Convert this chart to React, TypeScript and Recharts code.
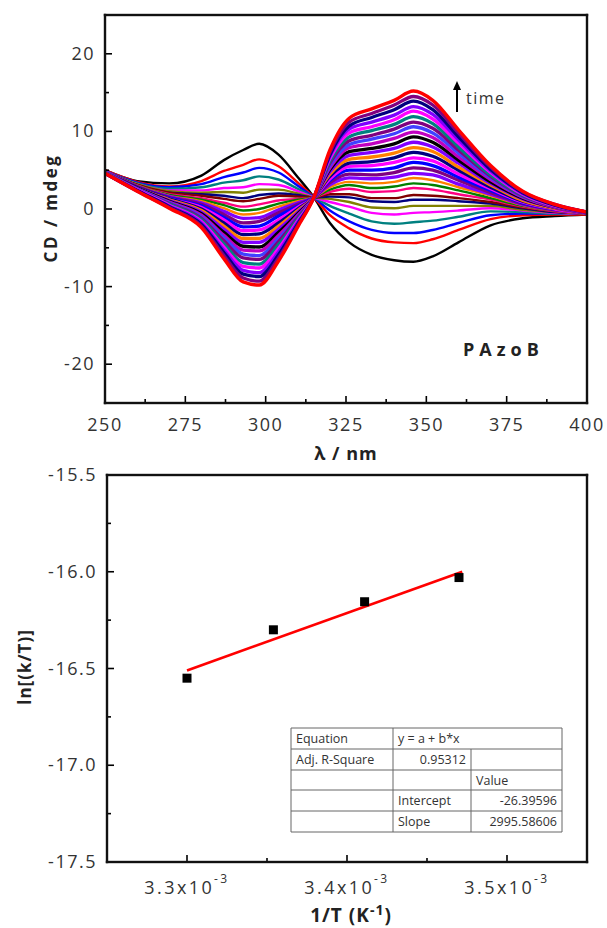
import React from "react";
import {
  LineChart,
  ComposedChart,
  Line,
  Scatter,
  XAxis,
  YAxis,
} from "recharts";

const FONT = "'Open Sans', 'DejaVu Sans', sans-serif";

// ---- top panel: CD spectra vs wavelength ----
const wavelength = [250, 260, 270, 280, 287, 293, 298, 304, 310, 315, 320, 326, 333, 340, 346, 352, 360, 370, 380, 390, 400];

// one row per recorded spectrum, first (black) to last (red)
const cdSpectra: number[][] = [
  [5.0, 3.6, 3.3, 4.3, 6.3, 7.6, 8.4, 7.0, 4.1, 1.5, -1.8, -4.3, -5.9, -6.6, -6.8, -6.1, -4.3, -2.1, -1.2, -0.9, -0.7],
  [5.0, 3.5, 2.9, 3.6, 4.9, 5.7, 6.4, 5.5, 3.4, 1.5, -0.8, -2.5, -3.8, -4.3, -4.4, -3.9, -2.7, -1.3, -0.8, -0.7, -0.7],
  [4.9, 3.4, 2.8, 3.2, 4.1, 4.7, 5.3, 4.7, 3.0, 1.5, -0.2, -1.6, -2.7, -3.1, -3.1, -2.7, -1.8, -0.8, -0.6, -0.6, -0.6],
  [4.9, 3.3, 2.6, 2.8, 3.4, 3.7, 4.2, 3.8, 2.6, 1.5, 0.4, -0.6, -1.6, -1.9, -1.7, -1.5, -1.0, -0.3, -0.4, -0.6, -0.6],
  [4.9, 3.2, 2.4, 2.4, 2.7, 2.8, 3.2, 3.1, 2.3, 1.5, 0.9, 0.3, -0.5, -0.7, -0.5, -0.4, -0.2, 0.1, -0.2, -0.5, -0.6],
  [4.9, 3.2, 2.3, 2.1, 2.2, 2.1, 2.5, 2.5, 2.0, 1.5, 1.3, 0.9, 0.2, 0.1, 0.4, 0.4, 0.4, 0.4, -0.1, -0.4, -0.6],
  [4.9, 3.1, 2.1, 1.9, 1.7, 1.4, 1.8, 2.0, 1.8, 1.5, 1.6, 1.5, 1.0, 0.9, 1.2, 1.2, 1.0, 0.7, 0.1, -0.4, -0.6],
  [4.8, 3.1, 2.1, 1.7, 1.3, 1.0, 1.3, 1.7, 1.6, 1.5, 1.9, 1.9, 1.4, 1.4, 1.8, 1.7, 1.4, 0.9, 0.2, -0.3, -0.6],
  [4.8, 3.0, 1.9, 1.4, 0.8, 0.3, 0.6, 1.1, 1.3, 1.5, 2.2, 2.6, 2.2, 2.3, 2.7, 2.5, 1.9, 1.2, 0.3, -0.3, -0.6],
  [4.8, 3.0, 1.8, 1.2, 0.5, -0.2, 0.0, 0.7, 1.2, 1.5, 2.5, 3.1, 2.7, 2.9, 3.3, 3.1, 2.4, 1.4, 0.4, -0.2, -0.6],
  [4.8, 3.0, 1.7, 1.0, 0.1, -0.7, -0.5, 0.3, 1.0, 1.5, 2.8, 3.5, 3.3, 3.5, 4.0, 3.7, 2.8, 1.7, 0.5, -0.2, -0.6],
  [4.8, 2.9, 1.6, 0.8, -0.3, -1.2, -1.1, -0.1, 0.8, 1.5, 3.1, 4.0, 3.9, 4.1, 4.6, 4.4, 3.2, 1.9, 0.6, -0.1, -0.5],
  [4.8, 2.9, 1.5, 0.6, -0.7, -1.8, -1.6, -0.5, 0.6, 1.5, 3.4, 4.5, 4.4, 4.7, 5.3, 5.0, 3.7, 2.1, 0.7, -0.1, -0.5],
  [4.8, 2.8, 1.4, 0.4, -1.1, -2.3, -2.2, -0.9, 0.4, 1.5, 3.7, 5.0, 5.0, 5.3, 6.0, 5.6, 4.1, 2.4, 0.8, 0.0, -0.5],
  [4.8, 2.8, 1.3, 0.2, -1.4, -2.8, -2.7, -1.4, 0.2, 1.5, 3.9, 5.5, 5.6, 6.0, 6.6, 6.2, 4.5, 2.6, 0.9, 0.0, -0.5],
  [4.7, 2.8, 1.3, 0.0, -1.8, -3.3, -3.2, -1.8, 0.0, 1.5, 4.2, 5.9, 6.1, 6.6, 7.3, 6.8, 5.0, 2.8, 1.0, 0.1, -0.5],
  [4.7, 2.7, 1.2, -0.2, -2.2, -3.8, -3.8, -2.2, -0.2, 1.5, 4.5, 6.4, 6.7, 7.2, 7.9, 7.4, 5.4, 3.1, 1.1, 0.1, -0.5],
  [4.7, 2.7, 1.1, -0.4, -2.6, -4.3, -4.3, -2.6, -0.4, 1.5, 4.8, 6.9, 7.3, 7.8, 8.6, 8.0, 5.9, 3.3, 1.3, 0.2, -0.5],
  [4.7, 2.7, 1.0, -0.6, -3.0, -4.8, -4.9, -3.0, -0.6, 1.5, 5.1, 7.4, 7.8, 8.4, 9.3, 8.6, 6.3, 3.5, 1.4, 0.2, -0.5],
  [4.7, 2.6, 0.9, -0.8, -3.4, -5.3, -5.4, -3.4, -0.8, 1.5, 5.3, 7.9, 8.4, 9.1, 9.9, 9.2, 6.7, 3.8, 1.5, 0.2, -0.5],
  [4.7, 2.6, 0.8, -1.0, -3.7, -5.8, -6.0, -3.8, -1.0, 1.5, 5.6, 8.3, 9.0, 9.7, 10.6, 9.8, 7.2, 4.0, 1.6, 0.3, -0.5],
  [4.7, 2.5, 0.7, -1.2, -4.1, -6.3, -6.5, -4.2, -1.1, 1.5, 5.9, 8.8, 9.5, 10.3, 11.2, 10.4, 7.6, 4.2, 1.7, 0.3, -0.5],
  [4.7, 2.5, 0.6, -1.4, -4.5, -6.9, -7.1, -4.6, -1.3, 1.5, 6.2, 9.3, 10.1, 10.9, 11.9, 11.0, 8.0, 4.4, 1.8, 0.4, -0.4],
  [4.6, 2.5, 0.5, -1.6, -4.9, -7.4, -7.6, -5.1, -1.5, 1.5, 6.5, 9.8, 10.6, 11.5, 12.6, 11.6, 8.5, 4.7, 1.9, 0.4, -0.4],
  [4.6, 2.4, 0.4, -1.8, -5.3, -7.9, -8.2, -5.5, -1.7, 1.5, 6.8, 10.3, 11.2, 12.1, 13.2, 12.2, 8.9, 4.9, 2.0, 0.5, -0.4],
  [4.6, 2.4, 0.3, -2.0, -5.6, -8.4, -8.7, -5.9, -1.9, 1.5, 7.0, 10.7, 11.8, 12.8, 13.9, 12.8, 9.3, 5.1, 2.1, 0.5, -0.4],
  [4.6, 2.3, 0.2, -2.2, -6.0, -8.9, -9.3, -6.3, -2.1, 1.5, 7.3, 11.2, 12.3, 13.4, 14.5, 13.4, 9.8, 5.4, 2.2, 0.6, -0.4],
  [4.6, 2.3, 0.1, -2.4, -6.4, -9.4, -9.8, -6.7, -2.3, 1.5, 7.6, 11.7, 12.9, 14.0, 15.2, 14.0, 10.2, 5.6, 2.3, 0.6, -0.4],
];

const curveColors = [
  "#000000", "#FF0000", "#0000FF", "#008080", "#FF00FF", "#808000", "#000080",
  "#800000", "#FF0080", "#008000", "#FF8000",
  "#8000FF", "#800080", "#0000FF", "#FF00FF", "#000080", "#FF8000", "#8000FF",
  "#000000", "#C000C0", "#4040FF", "#800080", "#008080", "#FF00FF", "#8000FF",
  "#000080", "#800080", "#FF0000",
];

const cdXTicks = [250, 262.5, 275, 287.5, 300, 312.5, 325, 337.5, 350, 362.5, 375, 387.5, 400];
const cdXLabels = ["250", "275", "300", "325", "350", "375", "400"];
const cdYTicks = [-20, -15, -10, -5, 0, 5, 10, 15, 20];
const cdYLabels = ["-20", "-10", "0", "10", "20"];

// ---- bottom panel: Eyring plot ----
const invT = [3.3e-3, 3.354e-3, 3.411e-3, 3.47e-3];
const lnKT = [-16.55, -16.3, -16.155, -16.03];
const fitX = [3.3e-3, 3.472e-3];
const fitY = [-16.51, -16.0];

const eyXTicks = [3.3e-3, 3.35e-3, 3.4e-3, 3.45e-3, 3.5e-3];
const eyXLabels = ["3.3", "3.4", "3.5"];
const eyYTicks = [-17.5, -17.25, -17.0, -16.75, -16.5, -16.25, -16.0, -15.75, -15.5];
const eyYLabels = ["-17.5", "-17.0", "-16.5", "-16.0", "-15.5"];

const tableRows = [
  ["Equation", "y = a + b*x", ""],
  ["Adj. R-Square", "0.95312", ""],
  ["", "", "Value"],
  ["", "Intercept", "-26.39596"],
  ["", "Slope", "2995.58606"],
];

// layout of the two panels
const W = 607;
const TOP = { y0: 0, h: 465, mTop: 15, mRight: 20, yW: 105, xH: 62 };
const BOT = { y0: 440, h: 488, mTop: 35, mRight: 20, yW: 107, xH: 66 };

const labelStyle = { fontFamily: FONT, fontSize: 18, fill: "#333", letterSpacing: 1.5 };

function xTick(labels: string[], dy: number, sci = false) {
  return (p: any) => {
    const major = p.index % 2 === 0;
    const lab = major ? labels[p.index / 2] : null;
    return (
      <g>
        <line x1={p.x} x2={p.x} y1={p.y} y2={p.y - (major ? 7 : 4)} stroke="#000" strokeWidth={1.6} />
        {lab && (
          <text x={p.x} y={p.y + dy} textAnchor="middle" {...labelStyle} letterSpacing={sci ? 2.4 : 1.5}>
            {sci ? (
              <>
                {lab}x10
                <tspan dy={-11} fontSize={12}>-3</tspan>
              </>
            ) : (
              lab
            )}
          </text>
        )}
      </g>
    );
  };
}

function yTick(labels: string[]) {
  return (p: any) => {
    const major = p.index % 2 === 0;
    const lab = major ? labels[p.index / 2] : null;
    return (
      <g>
        <line x1={p.x} x2={p.x + (major ? 7 : 4)} y1={p.y} y2={p.y} stroke="#000" strokeWidth={1.6} />
        {lab && (
          <text x={p.x - 10} y={p.y + 6} textAnchor="end" {...labelStyle}>
            {lab}
          </text>
        )}
      </g>
    );
  };
}

const Square = (p: any) => <rect x={p.cx - 4.5} y={p.cy - 4.5} width={9} height={9} fill="#000" />;

// plot-area border drawn as four filled bars
function FrameBars({ p }: { p: typeof TOP }) {
  const x0 = p.yW;
  const y0 = p.y0 + p.mTop;
  const x1 = W - p.mRight;
  const y1 = p.y0 + p.h - p.xH;
  const t = 2.4;
  return (
    <g fill="#111">
      <rect x={x0 - t / 2} y={y0 - t / 2} width={x1 - x0 + t} height={t} />
      <rect x={x0 - t / 2} y={y1 - t / 2} width={x1 - x0 + t} height={t} />
      <rect x={x0 - t / 2} y={y0 - t / 2} width={t} height={y1 - y0 + t} />
      <rect x={x1 - t / 2} y={y0 - t / 2} width={t} height={y1 - y0 + t} />
    </g>
  );
}

export default function App() {
  const cdRows = wavelength.map((w, i) => {
    const row: Record<string, number> = { w };
    cdSpectra.forEach((s, k) => {
      row[`c${k}`] = s[i];
    });
    return row;
  });
  const points = invT.map((x, i) => ({ x, y: lnKT[i] }));
  const fit = fitX.map((x, i) => ({ x, y: fitY[i] }));
  const last = cdSpectra.length - 1;

  const colX = [291, 393, 471, 562];
  const rowY = [728, 749, 770, 790, 811, 832];

  return (
    <div style={{ position: "relative", width: W, height: 928, background: "#fff" }}>
      <style>{`body{margin:0;background:#fff}`}</style>

      <div style={{ position: "absolute", left: 0, top: TOP.y0 }}>
        <LineChart width={W} height={TOP.h} data={cdRows} margin={{ top: TOP.mTop, right: TOP.mRight, bottom: 0, left: 0 }}>
          <XAxis
            dataKey="w"
            type="number"
            domain={[250, 400]}
            ticks={cdXTicks}
            interval={0}
            height={TOP.xH}
            axisLine={false}
            tickLine={false}
            tickSize={0}
            tickMargin={0}
            tick={xTick(cdXLabels, 28)}
            allowDataOverflow
          />
          <YAxis
            type="number"
            domain={[-25, 25]}
            ticks={cdYTicks}
            interval={0}
            width={TOP.yW}
            axisLine={false}
            tickLine={false}
            tickSize={0}
            tickMargin={0}
            tick={yTick(cdYLabels)}
            allowDataOverflow
          />
          {cdSpectra.map((_, k) => (
            <Line
              key={k}
              dataKey={`c${k}`}
              type="monotone"
              stroke={curveColors[k]}
              strokeWidth={k === last ? 3.4 : k > 10 ? 3.3 : 2.4}
              dot={false}
              isAnimationActive={false}
            />
          ))}
        </LineChart>
      </div>

      <div style={{ position: "absolute", left: 0, top: BOT.y0 }}>
        <ComposedChart width={W} height={BOT.h} margin={{ top: BOT.mTop, right: BOT.mRight, bottom: 0, left: 0 }}>
          <XAxis
            dataKey="x"
            type="number"
            domain={[3.25e-3, 3.55e-3]}
            ticks={eyXTicks}
            interval={0}
            height={BOT.xH}
            axisLine={false}
            tickLine={false}
            tickSize={0}
            tickMargin={0}
            tick={xTick(eyXLabels, 32, true)}
            allowDataOverflow
          />
          <YAxis
            type="number"
            domain={[-17.5, -15.5]}
            ticks={eyYTicks}
            interval={0}
            width={BOT.yW}
            axisLine={false}
            tickLine={false}
            tickSize={0}
            tickMargin={0}
            tick={yTick(eyYLabels)}
            allowDataOverflow
          />
          <Line data={fit} dataKey="y" type="linear" stroke="#FF0000" strokeWidth={2.6} dot={false} isAnimationActive={false} />
          <Scatter data={points} dataKey="y" fill="#000" shape={Square} isAnimationActive={false} />
        </ComposedChart>
      </div>

      <svg width={W} height={928} style={{ position: "absolute", left: 0, top: 0, pointerEvents: "none" }}>
        <FrameBars p={TOP} />
        <FrameBars p={BOT} />

        {/* top panel titles and notes */}
        <text transform="translate(57,208) rotate(-90)" textAnchor="middle" fontFamily={FONT} fontWeight="bold" fontSize={17} letterSpacing={2.5} fill="#222">
          CD / mdeg
        </text>
        <text x={346} y={460} textAnchor="middle" fontFamily={FONT} fontWeight="bold" fontSize={18} letterSpacing={1} fill="#222">
          λ / nm
        </text>
        <line x1={457} x2={457} y1={112} y2={88} stroke="#000" strokeWidth={2} />
        <polygon points="457,81 453,90 461,90" fill="#000" />
        <text x={466} y={104} fontFamily={FONT} fontSize={16} fill="#333" letterSpacing={1.5}>
          time
        </text>
        <text x={463} y={356} fontFamily={FONT} fontWeight="bold" fontSize={18} letterSpacing={5} fill="#222">
          PAzoB
        </text>

        {/* bottom panel titles */}
        <text transform="translate(31,667) rotate(-90)" textAnchor="middle" fontFamily={FONT} fontWeight="bold" fontSize={17} letterSpacing={1} fill="#222">
          ln[(k/T)]
        </text>
        <text x={351} y={922} textAnchor="middle" fontFamily={FONT} fontWeight="bold" fontSize={19} letterSpacing={1} fill="#222">
          1/T (K
          <tspan dy={-7} fontSize={14}>-1</tspan>
          <tspan dy={7}>)</tspan>
        </text>

        {/* fit result table */}
        <g stroke="#666" strokeWidth={1}>
          {rowY.map((y) => (
            <line key={y} x1={colX[0]} x2={colX[3]} y1={y} y2={y} />
          ))}
          <line x1={colX[0]} x2={colX[0]} y1={rowY[0]} y2={rowY[5]} />
          <line x1={colX[1]} x2={colX[1]} y1={rowY[0]} y2={rowY[5]} />
          <line x1={colX[2]} x2={colX[2]} y1={rowY[1]} y2={rowY[5]} />
          <line x1={colX[3]} x2={colX[3]} y1={rowY[0]} y2={rowY[5]} />
        </g>
        <g fontFamily={FONT} fontSize={12.5} fill="#333">
          {tableRows.map((r, i) => {
            const y = rowY[i] + 15;
            return (
              <g key={i}>
                <text x={colX[0] + 5} y={y}>{r[0]}</text>
                {i === 1 ? (
                  <text x={colX[2] - 5} y={y} textAnchor="end">{r[1]}</text>
                ) : (
                  <text x={colX[1] + 5} y={y}>{r[1]}</text>
                )}
                {i >= 3 ? (
                  <text x={colX[3] - 5} y={y} textAnchor="end">{r[2]}</text>
                ) : (
                  <text x={colX[2] + 5} y={y}>{r[2]}</text>
                )}
              </g>
            );
          })}
        </g>
      </svg>
    </div>
  );
}
